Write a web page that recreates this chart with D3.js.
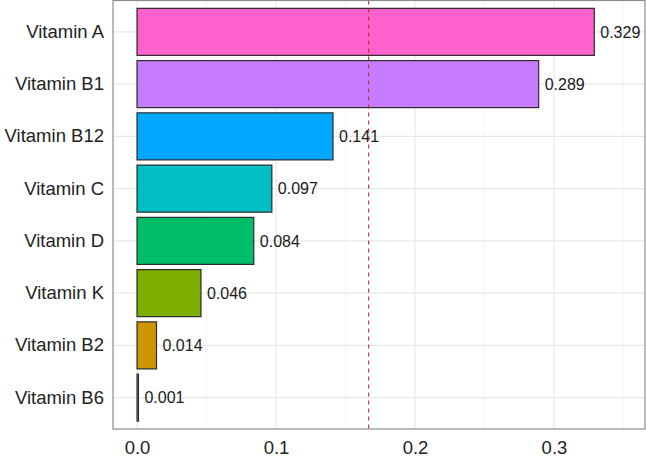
<!DOCTYPE html>
<html>
<head>
<meta charset="utf-8">
<script src="https://cdn.jsdelivr.net/npm/d3@7"></script>
<style>
  body { margin: 0; background: #fff; }
  text { font-family: "Liberation Sans", Arial, Helvetica, sans-serif; }
</style>
</head>
<body>
<svg id="chart" width="646" height="458"></svg>
<script>
// values
var vitamins = ["Vitamin A", "Vitamin B1", "Vitamin B12", "Vitamin C", "Vitamin D", "Vitamin K", "Vitamin B2", "Vitamin B6"];
var scores = [0.329, 0.289, 0.141, 0.097, 0.084, 0.046, 0.014, 0.001];
var colours = ["#FF61CC", "#C77CFF", "#00A9FF", "#00BFC4", "#00BE67", "#7CAE00", "#CD9600", "#F8766D"];
var xTicks = [0, 0.1, 0.2, 0.3];
var xMinor = [0.05, 0.15, 0.25, 0.35];
var cutoff = 1 / 6;

var svg = d3.select("#chart");
var pLeft = 113, pRight = 645, pTop = 0.5, pBottom = 429;

var x = d3.scaleLinear().domain([-0.0173, 0.3655]).range([pLeft, pRight]);
var y = d3.scaleBand().domain(vitamins).range([pTop, pBottom])
  .paddingInner(0.1).paddingOuter(0.15);

var data = vitamins.map(function(v, i) {
  return {name: v, value: scores[i], fill: colours[i]};
});

// grid
var grid = svg.append("g");
grid.selectAll("line.minor").data(xMinor).enter().append("line")
  .attr("class", "minor")
  .attr("x1", function(d) { return x(d); }).attr("x2", function(d) { return x(d); })
  .attr("y1", pTop).attr("y2", pBottom)
  .attr("stroke", "#f2f2f2").attr("stroke-width", 0.7);
grid.selectAll("line.major").data(xTicks).enter().append("line")
  .attr("class", "major")
  .attr("x1", function(d) { return x(d); }).attr("x2", function(d) { return x(d); })
  .attr("y1", pTop).attr("y2", pBottom)
  .attr("stroke", "#e8e8e8").attr("stroke-width", 1.1);
grid.selectAll("line.hgrid").data(vitamins).enter().append("line")
  .attr("class", "hgrid")
  .attr("x1", pLeft).attr("x2", pRight)
  .attr("y1", function(d) { return y(d) + y.bandwidth() / 2; })
  .attr("y2", function(d) { return y(d) + y.bandwidth() / 2; })
  .attr("stroke", "#e8e8e8").attr("stroke-width", 1.1);

// bars
svg.selectAll("rect.bar").data(data).enter().append("rect")
  .attr("class", "bar")
  .attr("x", x(0))
  .attr("y", function(d) { return y(d.name); })
  .attr("width", function(d) { return x(d.value) - x(0); })
  .attr("height", y.bandwidth())
  .attr("fill", function(d) { return d.fill; })
  .attr("stroke", "#2b2b2b")
  .attr("stroke-width", 1.2);

// value labels
svg.selectAll("text.val").data(data).enter().append("text")
  .attr("class", "val")
  .attr("x", function(d) { return x(d.value) + 6; })
  .attr("y", function(d) { return y(d.name) + y.bandwidth() / 2; })
  .attr("dy", "0.36em")
  .attr("font-size", 16)
  .attr("fill", "#1a1a1a")
  .text(function(d) { return d3.format(".3f")(d.value); });

// cutoff line
svg.append("line")
  .attr("x1", x(cutoff)).attr("x2", x(cutoff))
  .attr("y1", pTop).attr("y2", pBottom)
  .attr("stroke", "#b03030")
  .attr("stroke-width", 1.1)
  .attr("stroke-dasharray", "4,4");

// panel border
svg.append("rect")
  .attr("x", pLeft).attr("y", pTop)
  .attr("width", pRight - pLeft).attr("height", pBottom - pTop)
  .attr("fill", "none")
  .attr("stroke", "#8c8c8c")
  .attr("stroke-width", 1.2);

// axes
var xAxis = svg.append("g")
  .attr("transform", "translate(0," + pBottom + ")")
  .call(d3.axisBottom(x).tickValues(xTicks).tickFormat(d3.format(".1f")).tickSize(0).tickPadding(12));
xAxis.select(".domain").remove();
xAxis.selectAll("text").attr("font-size", 18.5).attr("fill", "#222")
  .style("font-family", "Liberation Sans, Arial, sans-serif");

var yAxis = svg.append("g")
  .attr("transform", "translate(" + pLeft + ",0)")
  .call(d3.axisLeft(y).tickSize(0).tickPadding(9));
yAxis.select(".domain").remove();
yAxis.selectAll("text").attr("font-size", 18.5).attr("fill", "#222")
  .style("font-family", "Liberation Sans, Arial, sans-serif");
</script>
</body>
</html>
